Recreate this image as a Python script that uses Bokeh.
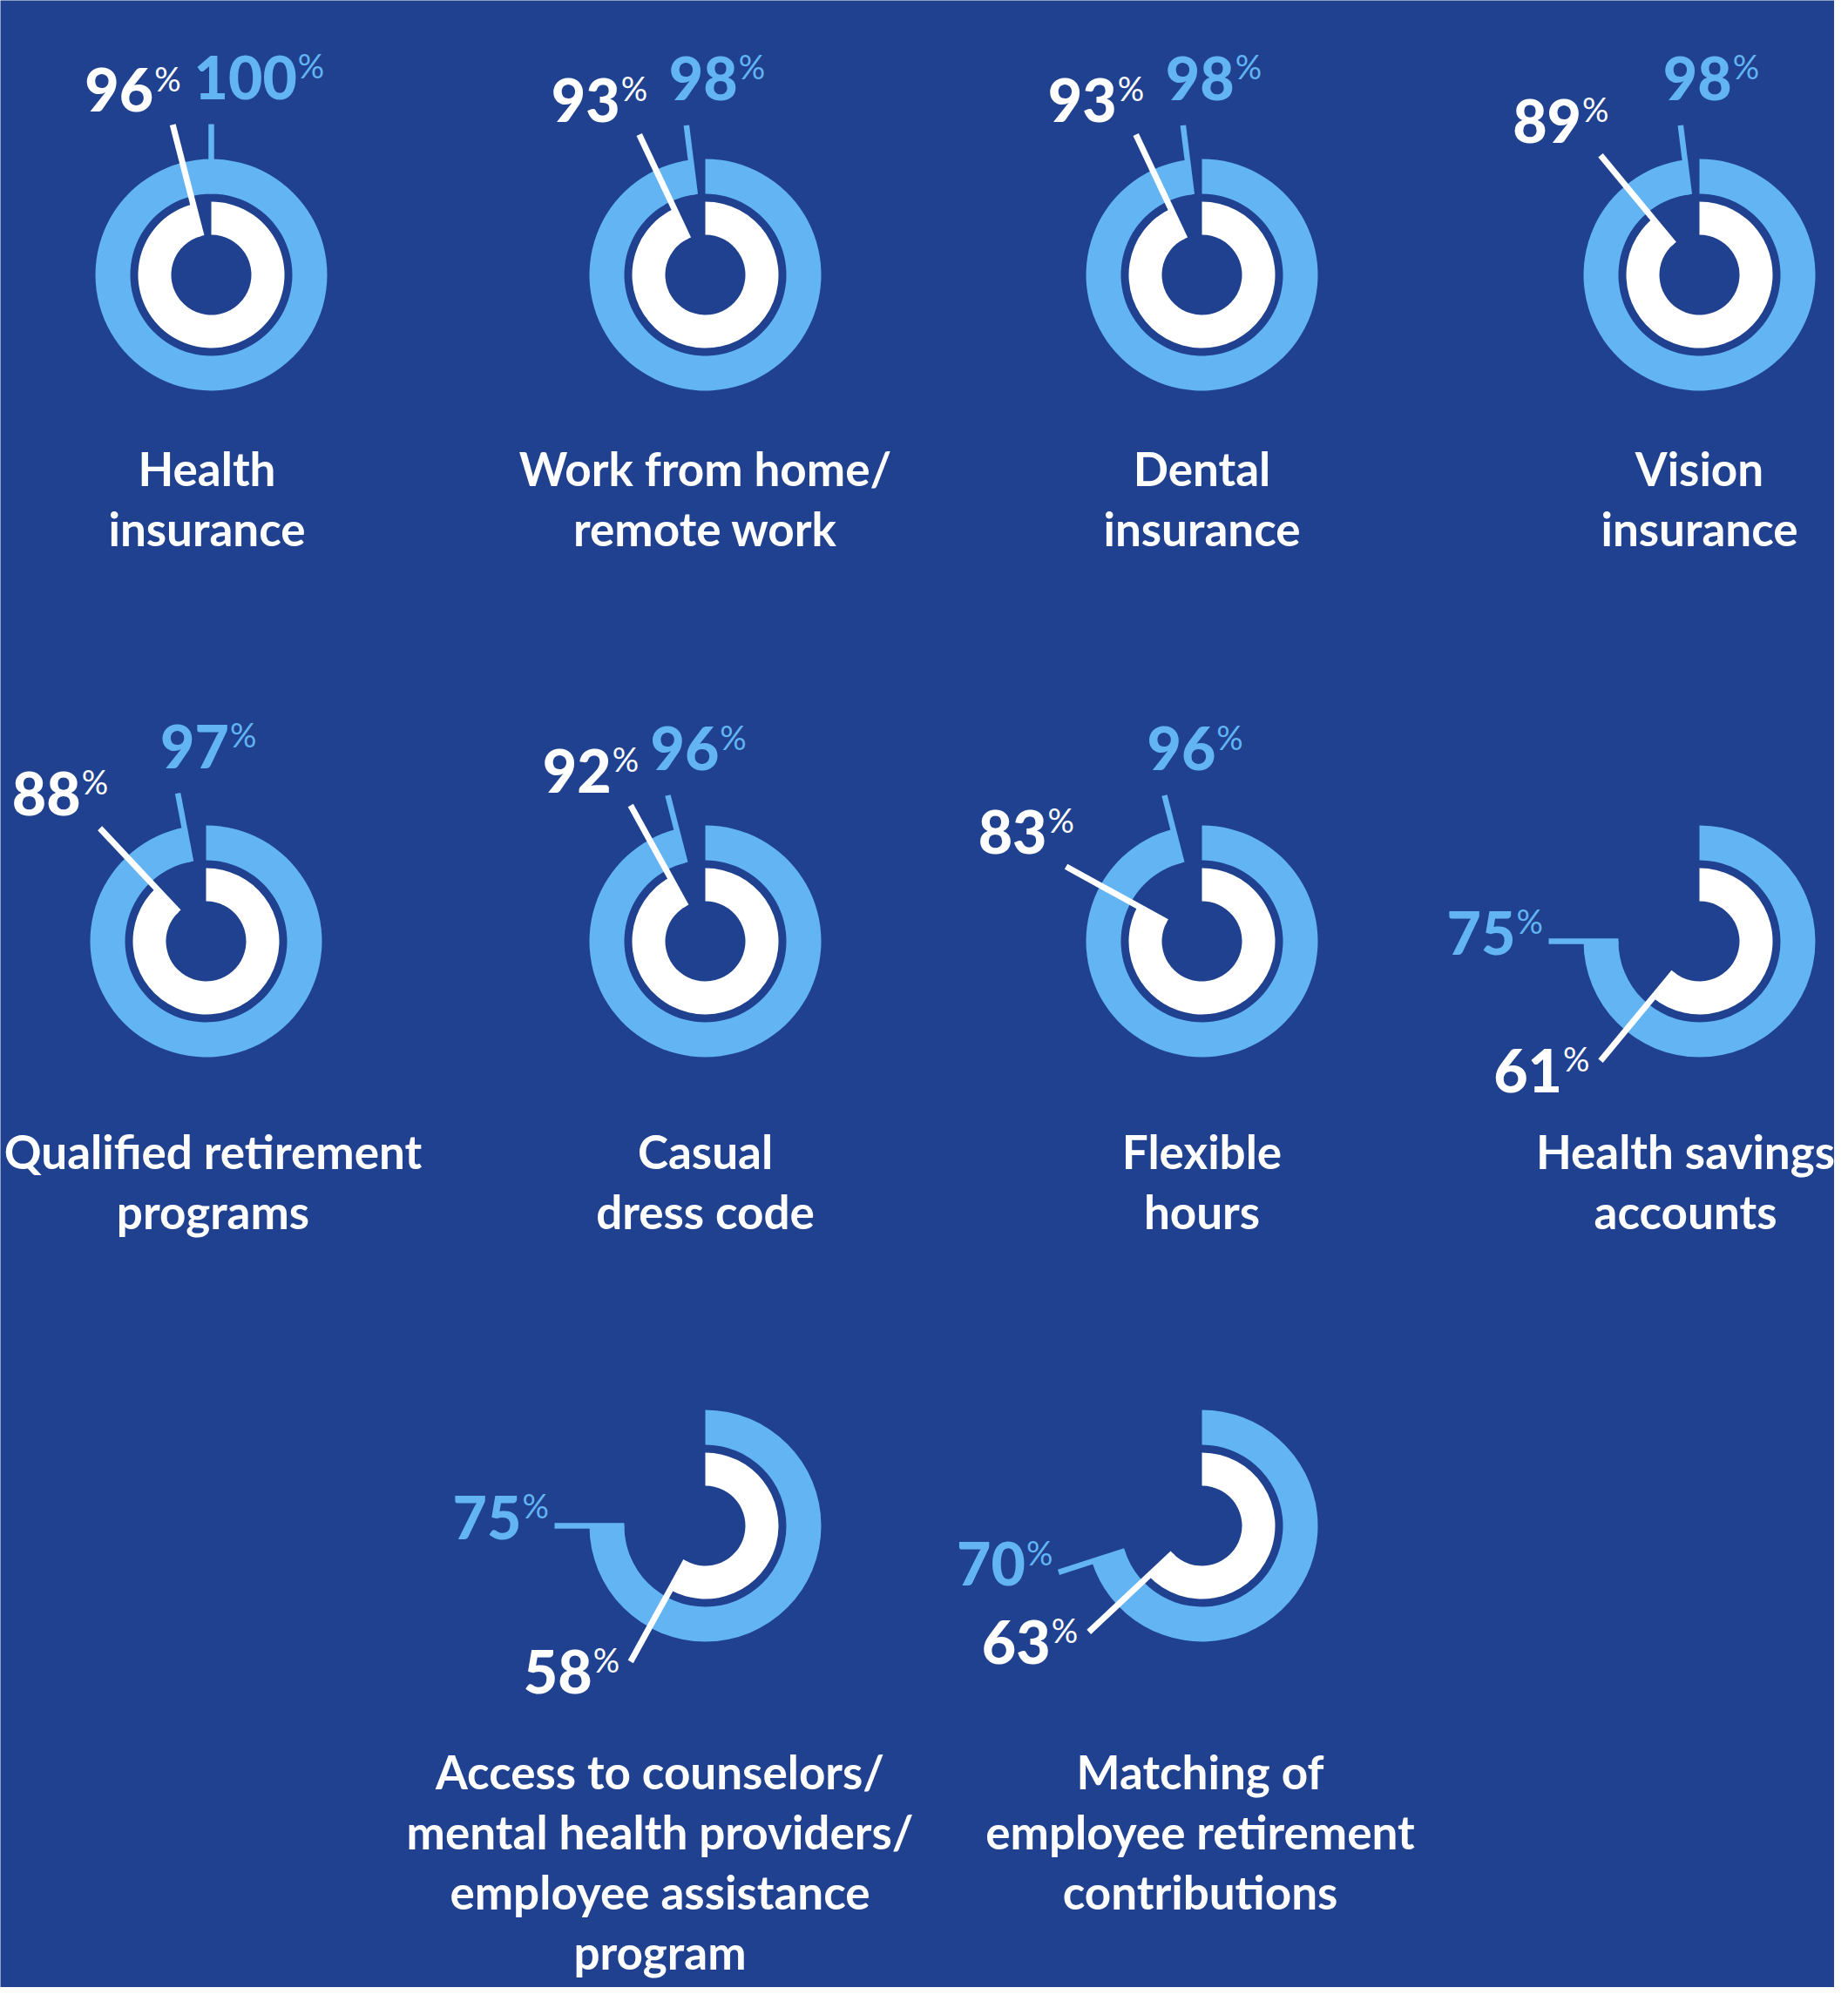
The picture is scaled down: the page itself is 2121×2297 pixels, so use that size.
import math
from bokeh.plotting import figure
from bokeh.models import Range1d, ColumnDataSource
from bokeh.core.properties import value
from bokeh.embed import file_html
from bokeh.resources import INLINE

# ---------------- data ----------------
categories = [
    "Health insurance",
    "Work from home/remote work",
    "Dental insurance",
    "Vision insurance",
    "Qualified retirement programs",
    "Casual dress code",
    "Flexible hours",
    "Health savings accounts",
    "Access to counselors/mental health providers/employee assistance program",
    "Matching of employee retirement contributions",
]
category_lines = [
    ["Health", "insurance"],
    ["Work from home/", "remote work"],
    ["Dental", "insurance"],
    ["Vision", "insurance"],
    ["Qualified retirement", "programs"],
    ["Casual", "dress code"],
    ["Flexible", "hours"],
    ["Health savings", "accounts"],
    ["Access to counselors/", "mental health providers/", "employee assistance", "program"],
    ["Matching of", "employee retirement", "contributions"],
]
outer_pct = [100, 98, 98, 98, 97, 96, 96, 75, 75, 70]   # light blue ring
inner_pct = [96, 93, 93, 89, 88, 92, 83, 61, 58, 63]    # white ring

# ---------------- layout / style ----------------
BG = "#1F418F"
LIGHT = "#62B4F2"
WHITE = "#FFFFFF"

W, H = 2105, 2281
cx = [250, 817, 1387, 1958, 244, 817, 1387, 1958, 817, 1387]
cy = [323, 323, 323, 323, 1088, 1088, 1088, 1088, 1759, 1759]
label_dx = [-5, 0, 0, 0, 8, 0, 0, -16, -52, -2]
row_of = [0, 0, 0, 0, 1, 1, 1, 1, 2, 2]
row_baseline = [559, 1343, 2055]
LINE_STEP = 69

R_IN0, R_IN1 = 46, 84
R_OUT0, R_OUT1 = 93, 133
R_IN_LINE = 178
R_OUT_LINE = 173

NUM_SIZE = 68
PCT_SIZE = 38
ADV = 0.58 * NUM_SIZE
RAISE = 0.7165 * (NUM_SIZE - PCT_SIZE)
CAT_SIZE = 53
BASE_FIX = 0.26          # renderer puts the baseline this many em lower

NUM_FONT = value("Lato Black, Lato")
TXT_FONT = value("Lato")

p = figure(width=W, height=H,
           x_range=Range1d(8, 8 + W), y_range=Range1d(-(8 + H), -8),
           output_backend="svg", toolbar_location=None, min_border=0,
           x_axis_type=None, y_axis_type=None)
p.grid.visible = False
p.outline_line_color = None
p.background_fill_color = BG
p.border_fill_color = BG


def sweep(v):
    return min(v / 100.0 * 2 * math.pi, 2 * math.pi - 1e-3)


def direction(v):
    t = v / 100.0 * 2 * math.pi
    return math.sin(t), math.cos(t)   # (dx, dy) in y-up coordinates


n = len(categories)
X = cx
Y = [-y for y in cy]

ring_src = ColumnDataSource(dict(
    x=X, y=Y,
    start=[math.pi / 2] * n,
    end_out=[math.pi / 2 - sweep(v) for v in outer_pct],
    end_in=[math.pi / 2 - sweep(v) for v in inner_pct],
))
p.annular_wedge(x="x", y="y", inner_radius=R_OUT0, outer_radius=R_OUT1,
                start_angle="start", end_angle="end_out", direction="clock",
                fill_color=LIGHT, line_color=None, source=ring_src)
p.annular_wedge(x="x", y="y", inner_radius=R_IN0, outer_radius=R_IN1,
                start_angle="start", end_angle="end_in", direction="clock",
                fill_color=WHITE, line_color=None, source=ring_src)

# leader lines and value labels
ox0, oy0, ox1, oy1 = [], [], [], []
ix0, iy0, ix1, iy1 = [], [], [], []
num_x, num_y, num_t, num_c = [], [], [], []
pc_x, pc_y, pc_c = [], [], []

for i in range(n):
    for kind, v in (("outer", outer_pct[i]), ("inner", inner_pct[i])):
        dx, dy = direction(v)
        r0, r1 = (R_OUT0, R_OUT_LINE) if kind == "outer" else (R_IN0, R_IN_LINE)
        sx0, sy0 = X[i] + r0 * dx, Y[i] + r0 * dy
        sx1, sy1 = X[i] + r1 * dx, Y[i] + r1 * dy
        if kind == "outer":
            ox0.append(sx0); oy0.append(sy0); ox1.append(sx1); oy1.append(sy1)
        else:
            ix0.append(sx0); iy0.append(sy0); ix1.append(sx1); iy1.append(sy1)
        ex, ey = sx1, -sy1          # screen (y-down) for placement rules
        up = dy > 0
        txt = str(v)
        if kind == "inner":
            if up:
                j, b = ex - 22, ey - 22
            else:
                j, b = ex - 44, ey + 29
            col = WHITE
        else:
            if up:
                j, b = ex - 20 + len(txt) * ADV, ey - 36
            else:
                j, b = ex - 38, ey + 8
            col = LIGHT
        num_x.append(j); num_y.append(-(b - BASE_FIX * NUM_SIZE))
        num_t.append(txt); num_c.append(col)
        pc_x.append(j + 1); pc_y.append(-(b - RAISE - BASE_FIX * PCT_SIZE)); pc_c.append(col)

p.segment(x0=ox0, y0=oy0, x1=ox1, y1=oy1, line_color=LIGHT, line_width=6.5)
p.segment(x0=ix0, y0=iy0, x1=ix1, y1=iy1, line_color=WHITE, line_width=7)

p.text(x=num_x, y=num_y, text=num_t, text_color=num_c,
       text_font=NUM_FONT, text_font_style="bold",
       text_font_size=f"{NUM_SIZE}px", text_align="right", text_baseline="alphabetic")
p.text(x=pc_x, y=pc_y, text=["%"] * len(pc_x), text_color=pc_c,
       text_font=TXT_FONT, text_font_style="normal",
       text_font_size=f"{PCT_SIZE}px", text_align="left", text_baseline="alphabetic")

# category labels
lx, ly, lt = [], [], []
for i, lines in enumerate(category_lines):
    for k, line in enumerate(lines):
        lx.append(X[i] + label_dx[i])
        ly.append(-(row_baseline[row_of[i]] + k * LINE_STEP - BASE_FIX * CAT_SIZE))
        lt.append(line)
p.text(x=lx, y=ly, text=lt, text_color=WHITE,
       text_font=TXT_FONT, text_font_style="bold",
       text_font_size=f"{CAT_SIZE}px", text_align="center", text_baseline="alphabetic")

open("out.html", "w").write(file_html(p, INLINE))
